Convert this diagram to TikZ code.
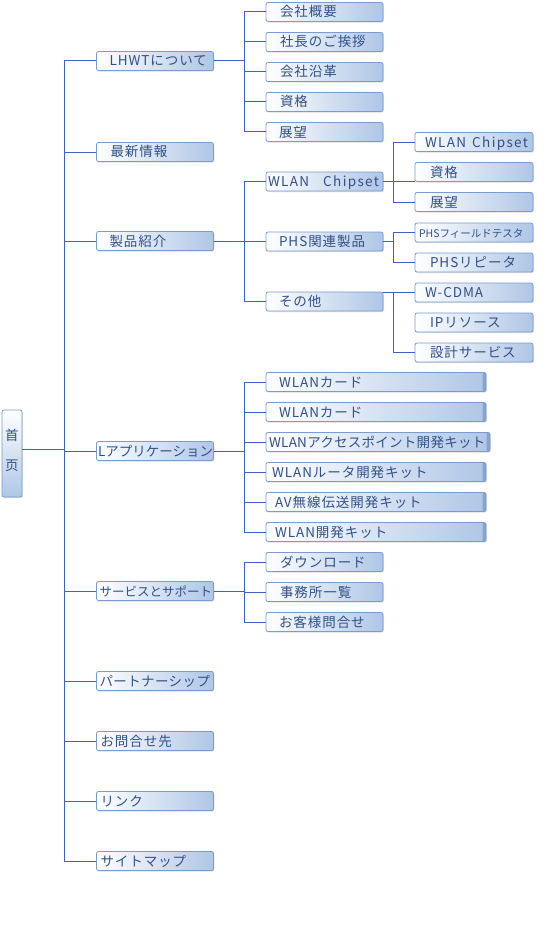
\documentclass[tikz,border=0pt]{standalone}
\usepackage{fontspec}
\usetikzlibrary{shadows}
\newfontfamily\jp[LetterSpace=7]{Noto Sans CJK JP}
\newcommand{\jpfont}{\jp\fontsize{13.5pt}{16pt}\selectfont}
\newcommand{\lsp}[1]{\addfontfeature{LetterSpace=#1}}
\definecolor{linec}{RGB}{60,95,200}
\definecolor{boxborder}{RGB}{120,155,208}
\definecolor{boxblue}{RGB}{175,198,230}
\definecolor{txt}{RGB}{50,80,135}
\definecolor{stripc}{RGB}{135,165,210}
\tikzset{
  nbox/.style={draw=boxborder, line width=0.8pt, rounded corners=2pt,
    left color=white, right color=boxblue, minimum height=19pt,
    inner xsep=0pt, inner ysep=0pt, text height=11pt, text depth=1pt,
    align=left, text=txt, font=\jpfont,
    drop shadow={shadow xshift=0.8pt, shadow yshift=-1.2pt, opacity=0.12, fill=black}},
  n117/.style={nbox, text width=117pt},
  n118/.style={nbox, text width=118pt},
  wstrip/.style={path picture={\fill[stripc] ([xshift=-3.5pt]path picture bounding box.north east) rectangle (path picture bounding box.south east);}},
  n220/.style={nbox, text width=220pt, wstrip},
  n224/.style={nbox, text width=224pt, wstrip},
  rootbox/.style={draw=boxborder, line width=0.8pt, rounded corners=2pt,
    top color=white, bottom color=boxblue, minimum width=20pt, minimum height=87pt,
    inner sep=0pt, align=center, text=txt, font=\jpfont,
    text height=41.9pt, text depth=8.6pt,
    drop shadow={shadow xshift=0.8pt, shadow yshift=-1.2pt, opacity=0.12, fill=black}},
  conn/.style={draw=linec, line width=1pt}
}
\begin{document}
\begin{tikzpicture}[x=1pt,y=-1pt]
\useasboundingbox (0,0) rectangle (550,931);
% root
\node[rootbox] (root) at (12,453.5) {首\\[14pt]页};
% level 1
\node[n117] (a) at (155,61)  {\hspace*{13pt}LHWTについて};
\node[n117] (b) at (155,152) {\hspace*{14pt}最新情報};
\node[n117] (c) at (155,241) {\hspace*{13pt}製品紹介};
\node[n117] (d) at (155,451) {\hspace*{1.5pt}\lsp{0}Lアプリケーション};
\node[n117] (e) at (155,591) {\hspace*{3pt}\fontsize{12.5pt}{15pt}\selectfont\lsp{0}サービスとサポート};
\node[n117] (f) at (155,681) {\hspace*{3pt}\lsp{3}パートナーシップ};
\node[n117] (g) at (155,741) {\hspace*{4pt}お問合せ先};
\node[n117] (h) at (155,801) {\hspace*{4pt}リンク};
\node[n117] (i) at (155,861) {\hspace*{4pt}サイトマップ};
% level 2
\node[n117] (a1) at (324.5,12)  {\hspace*{14pt}会社概要};
\node[n117] (a2) at (324.5,42)  {\hspace*{14pt}社長のご挨拶};
\node[n117] (a3) at (324.5,72)  {\hspace*{14pt}会社沿革};
\node[n117] (a4) at (324.5,102) {\hspace*{14pt}資格};
\node[n117] (a5) at (324.5,132) {\hspace*{13pt}展望};
\node[n117] (c1) at (324.5,181.5) {\hspace*{2pt}\mbox{\lsp{10}WLAN\hspace{14pt}Chipset}};
\node[n117] (c2) at (324.5,241.5) {\hspace*{13pt}PHS関連製品};
\node[n117] (c3) at (324.5,301.5) {\hspace*{13pt}その他};
\node[n220] (d1) at (376,382) {\hspace*{13pt}WLANカード};
\node[n220] (d2) at (376,412) {\hspace*{13pt}WLANカード};
\node[n224] (d3) at (378,442) {\hspace*{3pt}\mbox{\lsp{2}WLANアクセスポイント開発キット}};
\node[n220] (d4) at (376,472) {\hspace*{6pt}WLANルータ開発キット};
\node[n220] (d5) at (376,502) {\hspace*{9pt}AV無線伝送開発キット};
\node[n220] (d6) at (376,532) {\hspace*{9pt}WLAN開発キット};
\node[n117] (e1) at (324.5,562) {\hspace*{14pt}ダウンロード};
\node[n117] (e2) at (324.5,592) {\hspace*{14pt}事務所一覧};
\node[n117] (e3) at (324.5,622) {\hspace*{13pt}お客様問合せ};
% level 3
\node[n118] (c11) at (474,142) {\hspace*{10pt}\mbox{\lsp{10}WLAN\hspace{6pt}Chipset}};
\node[n118] (c12) at (474,172) {\hspace*{15pt}資格};
\node[n118] (c13) at (474,202) {\hspace*{15pt}展望};
\node[n118] (c21) at (474,232.5) {\hspace*{4pt}\mbox{\fontsize{10.5pt}{12pt}\selectfont\lsp{0}PHSフィールドテスタ}};
\node[n118] (c22) at (474,262.5) {\hspace*{15pt}PHSリピータ};
\node[n118] (c31) at (474,292.5) {\hspace*{10pt}W-CDMA};
\node[n118] (c32) at (474,322.5) {\hspace*{15pt}IPリソース};
\node[n118] (c33) at (474,352.5) {\hspace*{15pt}設計サービス};
% guide coordinates
\coordinate (T) at (64,0);
\coordinate (V) at (244,0);
\coordinate (W) at (393,0);
% trunk
\coordinate (r0) at ([yshift=4pt]root.east);
\draw[conn] (r0) -- (r0 -| T);
\draw[conn] (T |- a) -- (T |- i);
\foreach \n in {a,b,c,d,e,f,g,h,i} \draw[conn] (T |- \n) -- (\n.west);
% group a
\draw[conn] (a.east) -- (a.east -| V);
\draw[conn] (V |- a1) -- (V |- a5);
\foreach \n in {a1,a2,a3,a4,a5} \draw[conn] (V |- \n) -- (\n.west);
% group c
\draw[conn] (c.east) -- (c.east -| V);
\draw[conn] (V |- c1) -- (V |- c3);
\foreach \n in {c1,c2,c3} \draw[conn] (V |- \n) -- (\n.west);
% group d
\draw[conn] (d.east) -- (d.east -| V);
\draw[conn] (V |- d1) -- (V |- d6);
\foreach \n in {d1,d2,d3,d4,d5,d6} \draw[conn] (V |- \n) -- (\n.west);
% group e
\draw[conn] (e.east) -- (e.east -| V);
\draw[conn] (V |- e1) -- (V |- e3);
\foreach \n in {e1,e2,e3} \draw[conn] (V |- \n) -- (\n.west);
% group c1
\draw[conn] (c1.east) -- (c1.east -| c11.west);
\draw[conn] (W |- c11) -- (W |- c13);
\foreach \n in {c11,c13} \draw[conn] (W |- \n) -- (\n.west);
% group c2
\draw[conn] (c2.east) -- (c2.east -| W);
\draw[conn] (W |- c21) -- (W |- c22);
\foreach \n in {c21,c22} \draw[conn] (W |- \n) -- (\n.west);
% group c3
\coordinate (c3t) at ([yshift=9.5pt]c3.east);
\draw[conn] (c3t) -- (c3t -| c31.west);
\draw[conn] (W |- c3t) -- (W |- c33);
\draw[conn] (W |- c33) -- (c33.west);
\end{tikzpicture}
\end{document}
